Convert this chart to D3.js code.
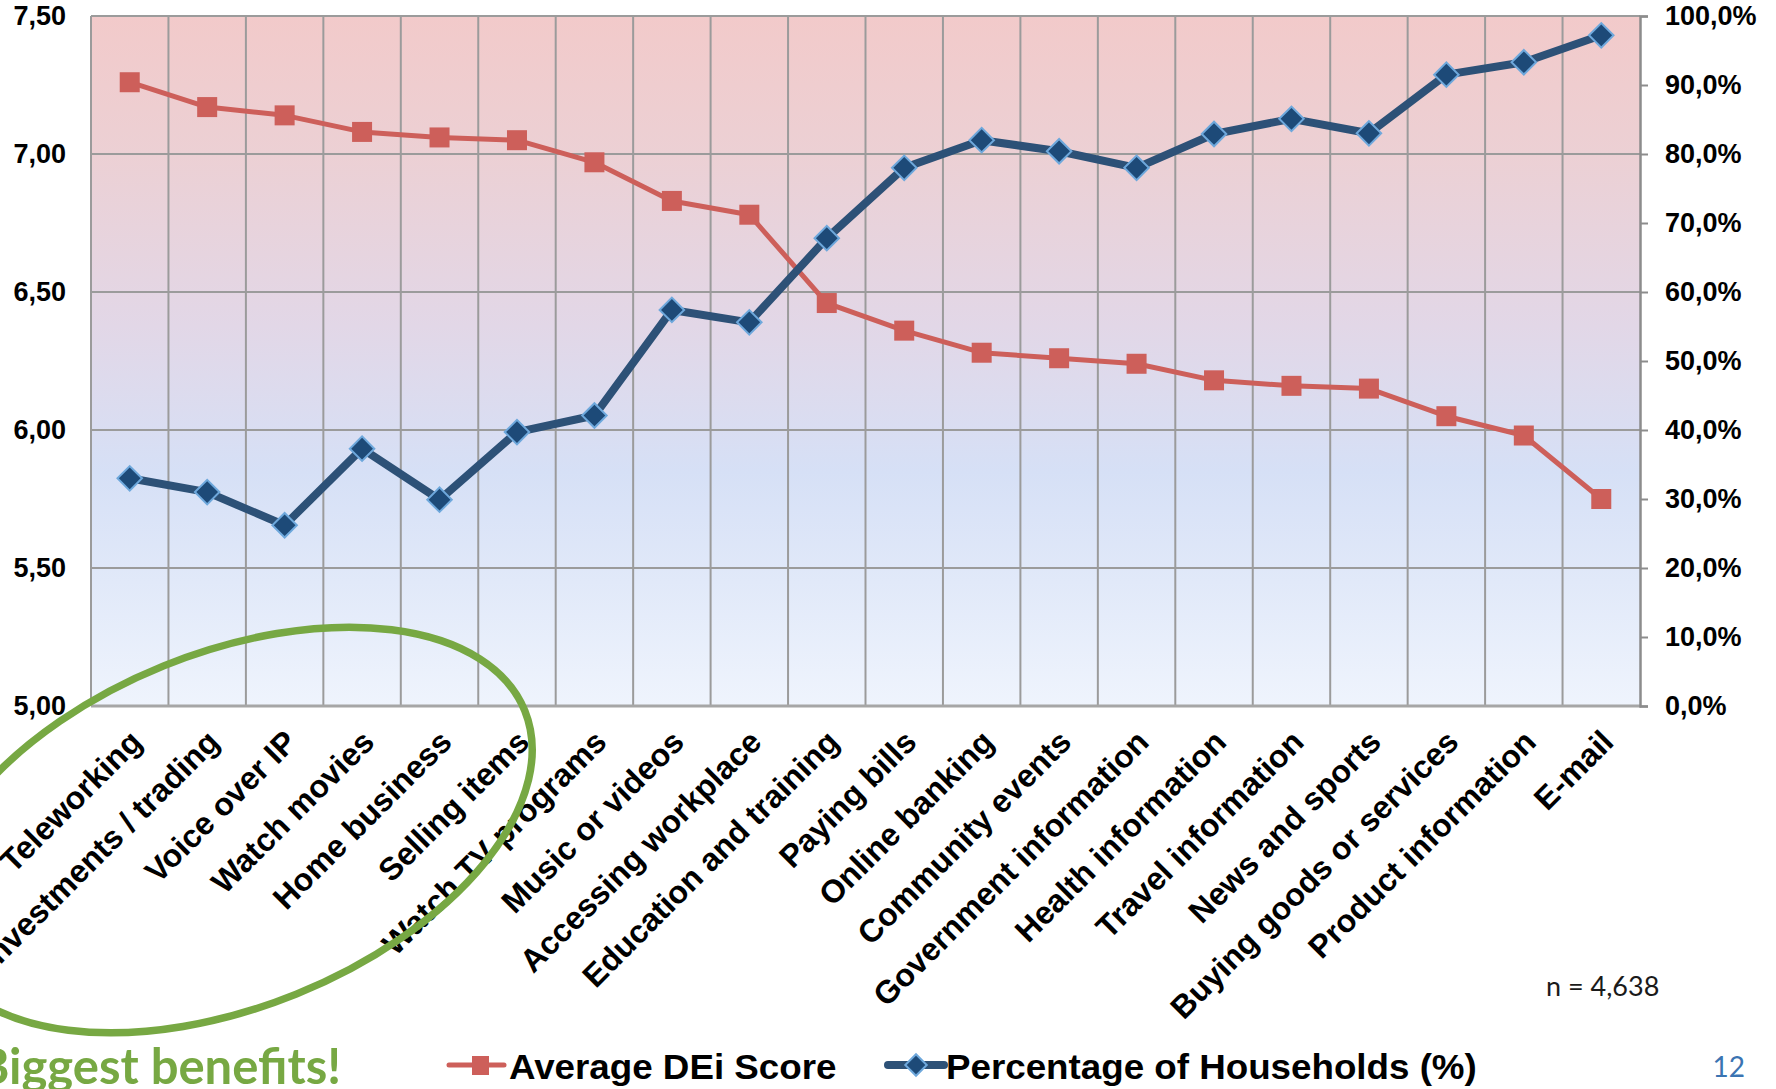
<!DOCTYPE html>
<html>
<head>
<meta charset="utf-8">
<script src="https://cdn.jsdelivr.net/npm/d3@7"></script>
<style>
  html, body { margin: 0; padding: 0; background: #ffffff; overflow: hidden; }
  svg { display: block; }
</style>
</head>
<body>
<svg id="chart" width="1776" height="1089"></svg>
<script>
// Online activities, ordered by share of households using them
const categories = [
  "Teleworking", "Investments / trading", "Voice over IP", "Watch movies",
  "Home business", "Selling items", "Watch TV programs", "Music or videos",
  "Accessing workplace", "Education and training", "Paying bills",
  "Online banking", "Community events", "Government information",
  "Health information", "Travel information", "News and sports",
  "Buying goods or services", "Product information", "E-mail"
];

// Average DEi score of households doing each activity (left axis)
const deiScore = [
  7.26, 7.17, 7.14, 7.08, 7.06, 7.05, 6.97, 6.83, 6.78, 6.46,
  6.36, 6.28, 6.26, 6.24, 6.18, 6.16, 6.15, 6.05, 5.98, 5.75
];

// Percentage of households doing each activity (right axis)
const householdPct = [
  33.0, 31.0, 26.2, 37.3, 29.9, 39.7, 42.1, 57.4, 55.6, 67.8,
  78.0, 82.0, 80.4, 78.0, 82.9, 85.1, 83.0, 91.5, 93.3, 97.2
];

const leftTicks = [5.0, 5.5, 6.0, 6.5, 7.0, 7.5];
const rightTicks = [0, 10, 20, 30, 40, 50, 60, 70, 80, 90, 100];

const seriesNames = ["Average DEi Score", "Percentage of Households (%)"];
const sampleNote = "n = 4,638";
const calloutText = "Biggest benefits!";
const pageNumber = "12";

// ---- layout ----
const plot = { left: 91, right: 1640, top: 16, bottom: 706 };
const RED = "#cd5f5a";
const NAVY_LINE = "#2d5177";
const NAVY_FILL = "#1d4a78";
const NAVY_EDGE = "#6ea8dc";
const GRID = "#9b9b9b";
const GREEN = "#77a843";
const AXIS_FONT = "'Liberation Sans', Arial, sans-serif";

const svg = d3.select("#chart");

const commaLocale = d3.formatLocale({ decimal: ",", thousands: ".", grouping: [3], currency: ["", ""] });
const fmtLeft = commaLocale.format(".2f");
const fmtRight = v => commaLocale.format(".1f")(v) + "%";

const x = d3.scaleBand().domain(categories).range([plot.left, plot.right]).padding(0);
const yL = d3.scaleLinear().domain([5, 7.5]).range([plot.bottom, plot.top]);
const yR = d3.scaleLinear().domain([0, 100]).range([plot.bottom, plot.top]);
const cx = c => x(c) + x.bandwidth() / 2;

// ---- background gradient ----
const defs = svg.append("defs");
const grad = defs.append("linearGradient")
  .attr("id", "plotBg").attr("x1", 0).attr("y1", 0).attr("x2", 0).attr("y2", 1);
[
  [0, "#f2caca"], [0.2, "#ecd0d4"], [0.45, "#e2d7e7"],
  [0.66, "#d6e0f6"], [0.82, "#e1e9f9"], [1, "#eff4fd"]
].forEach(([o, c]) => grad.append("stop").attr("offset", o).attr("stop-color", c));

svg.append("rect")
  .attr("x", plot.left).attr("y", plot.top)
  .attr("width", plot.right - plot.left).attr("height", plot.bottom - plot.top)
  .attr("fill", "url(#plotBg)");

// ---- grid ----
const grid = svg.append("g").attr("stroke", GRID).attr("stroke-width", 2);
grid.selectAll("line.h").data(leftTicks).join("line")
  .attr("class", "h")
  .attr("x1", plot.left).attr("x2", plot.right)
  .attr("y1", d => yL(d)).attr("y2", d => yL(d));
grid.selectAll("line.v").data(categories).join("line")
  .attr("class", "v")
  .attr("x1", d => x(d)).attr("x2", d => x(d))
  .attr("y1", plot.top).attr("y2", plot.bottom);
svg.append("line")
  .attr("x1", plot.left).attr("x2", plot.right + 1)
  .attr("y1", plot.bottom).attr("y2", plot.bottom)
  .attr("stroke", "#a6a6a6").attr("stroke-width", 3);

// ---- left axis ----
const axisL = svg.append("g")
  .attr("transform", `translate(${plot.left},0)`)
  .call(d3.axisLeft(yL).tickValues(leftTicks).tickSize(0).tickPadding(25).tickFormat(fmtLeft));
axisL.select(".domain").remove();
axisL.selectAll("text")
  .attr("font-family", AXIS_FONT).attr("font-weight", "bold")
  .attr("font-size", 27).attr("fill", "#000");

// ---- right axis ----
const axisR = svg.append("g")
  .attr("transform", `translate(${plot.right},0)`)
  .call(d3.axisRight(yR).tickValues(rightTicks).tickSize(8).tickPadding(17).tickFormat(fmtRight));
axisR.select(".domain").attr("stroke", "#8c8c8c").attr("stroke-width", 2.5);
axisR.selectAll(".tick line").attr("stroke", "#8c8c8c").attr("stroke-width", 2);
axisR.selectAll("text")
  .attr("font-family", AXIS_FONT).attr("font-weight", "bold")
  .attr("font-size", 27).attr("fill", "#000");

// ---- category labels ----
svg.append("g").selectAll("text").data(categories).join("text")
  .attr("transform", d => `translate(${cx(d) + 14},${plot.bottom + 38}) rotate(-45)`)
  .attr("text-anchor", "end")
  .attr("font-family", AXIS_FONT).attr("font-weight", "bold")
  .attr("font-size", 32).attr("fill", "#000")
  .text(d => d);

// ---- DEi score series ----
const redPts = categories.map((c, i) => [cx(c), yL(deiScore[i])]);
svg.append("path")
  .attr("d", d3.line()(redPts))
  .attr("fill", "none").attr("stroke", RED)
  .attr("stroke-width", 5).attr("stroke-linejoin", "round");
svg.append("g").selectAll("rect").data(redPts).join("rect")
  .attr("x", d => d[0] - 10).attr("y", d => d[1] - 10)
  .attr("width", 20).attr("height", 20)
  .attr("fill", RED);

// ---- household percentage series ----
const bluePts = categories.map((c, i) => [cx(c), yR(householdPct[i])]);
svg.append("path")
  .attr("d", d3.line()(bluePts))
  .attr("fill", "none").attr("stroke", NAVY_LINE)
  .attr("stroke-width", 8).attr("stroke-linejoin", "round");
const diamond = d3.symbol().type(d3.symbolSquare).size(300);
svg.append("g").selectAll("path").data(bluePts).join("path")
  .attr("d", diamond)
  .attr("transform", d => `translate(${d[0]},${d[1]}) rotate(45)`)
  .attr("fill", NAVY_FILL).attr("stroke", NAVY_EDGE).attr("stroke-width", 2);

// ---- legend ----
const legend = svg.append("g");
legend.append("line")
  .attr("x1", 449).attr("x2", 504).attr("y1", 1065).attr("y2", 1065)
  .attr("stroke", RED).attr("stroke-width", 5).attr("stroke-linecap", "round");
legend.append("rect")
  .attr("x", 472).attr("y", 1056).attr("width", 17).attr("height", 19).attr("fill", RED);
legend.append("text")
  .attr("transform", "translate(509,1079) scale(1.05,1)")
  .attr("font-family", AXIS_FONT).attr("font-weight", "bold")
  .attr("font-size", 35).attr("fill", "#000")
  .text(seriesNames[0]);

legend.append("line")
  .attr("x1", 888).attr("x2", 944).attr("y1", 1065).attr("y2", 1065)
  .attr("stroke", NAVY_LINE).attr("stroke-width", 8).attr("stroke-linecap", "round");
legend.append("path")
  .attr("d", d3.symbol().type(d3.symbolSquare).size(230))
  .attr("transform", "translate(916,1065) rotate(45)")
  .attr("fill", NAVY_FILL).attr("stroke", NAVY_EDGE).attr("stroke-width", 2);
legend.append("text")
  .attr("transform", "translate(946,1079) scale(1.05,1)")
  .attr("font-family", AXIS_FONT).attr("font-weight", "bold")
  .attr("font-size", 35).attr("fill", "#000")
  .text(seriesNames[1]);

// ---- notes ----
svg.append("text")
  .attr("x", 1546).attr("y", 996)
  .attr("font-family", "Lato, 'Open Sans', sans-serif")
  .attr("font-size", 27).attr("fill", "#1a1a1a")
  .text(sampleNote);

svg.append("text")
  .attr("x", 1745).attr("y", 1077).attr("text-anchor", "end")
  .attr("font-family", "Lato, 'Open Sans', sans-serif")
  .attr("font-size", 28).attr("fill", "#3b74b2")
  .text(pageNumber);

// callout runs off the left edge of the page
svg.append("text")
  .attr("x", 341).attr("y", 1084).attr("text-anchor", "end")
  .attr("font-family", "Lato, 'Open Sans', sans-serif").attr("font-weight", "bold")
  .attr("font-size", 49).attr("fill", GREEN)
  .text(calloutText);

// ---- highlight ring around the low-usage activities ----
svg.append("ellipse")
  .attr("cx", 0).attr("cy", 0).attr("rx", 318).attr("ry", 177)
  .attr("transform", "translate(230,830) rotate(-22)")
  .attr("fill", "none").attr("stroke", GREEN).attr("stroke-width", 7.5);
</script>
</body>
</html>
